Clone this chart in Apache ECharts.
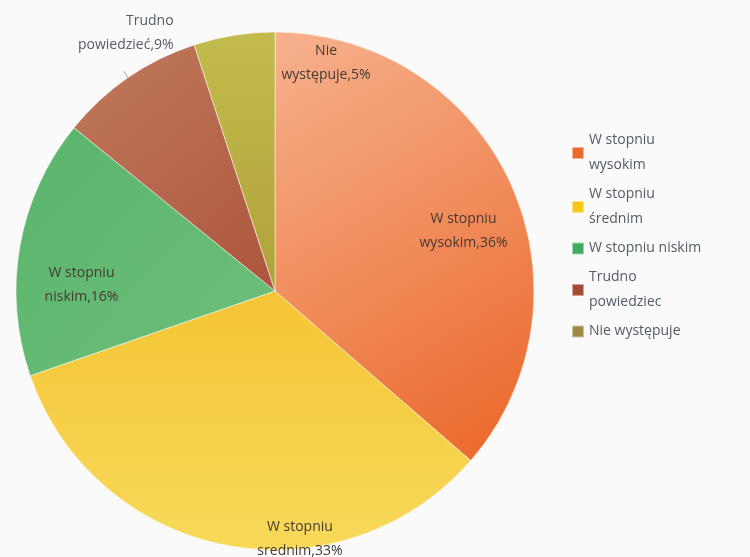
<!DOCTYPE html>
<html><head><meta charset="utf-8">
<script src="https://cdn.jsdelivr.net/npm/echarts@6/dist/echarts.min.js"></script>
<style>html,body{margin:0;padding:0;background:#fafafa}#c{width:750px;height:557px}</style>
</head><body><div id="c"></div>
<script>
const categories = ['W stopniu wysokim', 'W stopniu średnim', 'W stopniu niskim', 'Trudno powiedzieć', 'Nie występuje'];
const legendNames = ['W stopniu\nwysokim', 'W stopniu\nśrednim', 'W stopniu niskim', 'Trudno\npowiedziec', 'Nie występuje'];
const labelTexts = ['W stopniu\nwysokim,36%', 'W stopniu\nsrednim,33%', 'W stopniu\nniskim,16%', 'Trudno\npowiedzieć,9%', 'Nie\nwystępuje,5%'];
const values = [36, 33, 16, 9, 5];

const grad = (a, b, x2, y2) => new echarts.graphic.LinearGradient(0, 0, x2, y2, [{offset: 0, color: a}, {offset: 1, color: b}]);
const sliceColors = [
  grad('#f6b28e', '#eb6527', 1, 1),
  grad('#f5c535', '#f7d95a', 0, 1),
  grad('#5ab56c', '#6dbf79', 1, 1),
  grad('#c07a5c', '#ad553d', 1, 1),
  grad('#c3bb4c', '#b0a23a', 0, 1)
];
const legendColors = ['#ea6c2c', '#f3c816', '#3fab5f', '#a54b36', '#a08b45'];
const labelOffsets = [[68, -5], [50, 118], [-63, 17], [55, -38], [72, -97]];

const chart = echarts.init(document.getElementById('c'));
chart.setOption({
  backgroundColor: '#fafafa',
  animation: false,
  legend: {
    orient: 'vertical',
    left: 566,
    top: 123,
    itemWidth: 12,
    itemHeight: 12,
    itemGap: 4,
    icon: 'rect',
    data: categories.map((c, i) => ({name: c, itemStyle: {color: legendColors[i]}})),
    formatter: n => legendNames[categories.indexOf(n)],
    textStyle: {fontFamily: 'Open Sans', fontSize: 14, color: '#525b66', lineHeight: 25}
  },
  series: [{
    type: 'pie',
    center: [275, 291],
    radius: 259,
    startAngle: 90,
    clockwise: true,
    itemStyle: {borderColor: 'rgba(255,255,255,0.5)', borderWidth: 1},
    label: {
      position: 'inside',
      fontFamily: 'Open Sans',
      fontSize: 14,
      lineHeight: 24,
      color: '#453a33',
      align: 'center',
      formatter: p => labelTexts[p.dataIndex]
    },
    labelLayout: p => {
      const o = labelOffsets[p.dataIndex];
      return {dx: o[0], dy: o[1]};
    },
    data: categories.map((c, i) => {
      const d = {name: c, value: values[i], itemStyle: {color: sliceColors[i]}};
      if (i === 3) {
        d.label = {position: 'outside', alignTo: 'none', overflow: 'none', color: '#525b66', lineHeight: 24, distance: 2, align: 'center'};
        d.labelLine = {show: true, length: 8, length2: 0, lineStyle: {color: '#9aa2ab', width: 1}};
      }
      return d;
    })
  }]
});
</script></body></html>
